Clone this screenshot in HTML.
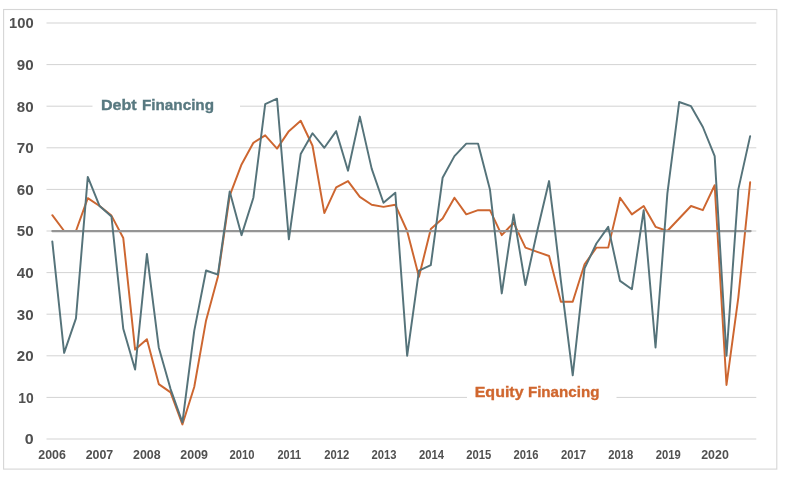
<!DOCTYPE html>
<html><head><meta charset="utf-8"><title>Financing chart</title>
<style>html,body{margin:0;padding:0;background:#fff;}svg{display:block;will-change:transform;opacity:0.999;}text{font-family:"Liberation Sans",sans-serif;font-weight:bold;}</style></head><body>
<svg width="785" height="479" viewBox="0 0 785 479">
<rect x="0" y="0" width="785" height="479" fill="#ffffff"/>
<rect x="3.6" y="9.5" width="773.2" height="459.6" fill="none" stroke="#d6d6d6" stroke-width="1.1"/>
<line x1="46.5" y1="439.00" x2="756.3" y2="439.00" stroke="#d3d3d3" stroke-width="1"/>
<line x1="46.5" y1="397.40" x2="756.3" y2="397.40" stroke="#d3d3d3" stroke-width="1"/>
<line x1="46.5" y1="355.80" x2="756.3" y2="355.80" stroke="#d3d3d3" stroke-width="1"/>
<line x1="46.5" y1="314.20" x2="756.3" y2="314.20" stroke="#d3d3d3" stroke-width="1"/>
<line x1="46.5" y1="272.60" x2="756.3" y2="272.60" stroke="#d3d3d3" stroke-width="1"/>
<line x1="46.5" y1="231.00" x2="756.3" y2="231.00" stroke="#d3d3d3" stroke-width="1"/>
<line x1="46.5" y1="189.40" x2="756.3" y2="189.40" stroke="#d3d3d3" stroke-width="1"/>
<line x1="46.5" y1="147.80" x2="756.3" y2="147.80" stroke="#d3d3d3" stroke-width="1"/>
<line x1="46.5" y1="106.20" x2="756.3" y2="106.20" stroke="#d3d3d3" stroke-width="1"/>
<line x1="46.5" y1="64.60" x2="756.3" y2="64.60" stroke="#d3d3d3" stroke-width="1"/>
<line x1="46.5" y1="23.00" x2="756.3" y2="23.00" stroke="#d3d3d3" stroke-width="1"/>
<rect x="92.5" y="96" width="147.5" height="20" fill="#ffffff"/>
<rect x="467" y="385" width="149.5" height="20" fill="#ffffff"/>
<text x="24.70" y="444.40" font-size="14" fill="#505050" textLength="8.9" lengthAdjust="spacingAndGlyphs">0</text>
<text x="18.20" y="402.80" font-size="14" fill="#505050" textLength="15.4" lengthAdjust="spacingAndGlyphs">10</text>
<text x="16.80" y="361.20" font-size="14" fill="#505050" textLength="16.8" lengthAdjust="spacingAndGlyphs">20</text>
<text x="16.80" y="319.60" font-size="14" fill="#505050" textLength="16.8" lengthAdjust="spacingAndGlyphs">30</text>
<text x="16.80" y="278.00" font-size="14" fill="#505050" textLength="16.8" lengthAdjust="spacingAndGlyphs">40</text>
<text x="16.80" y="236.40" font-size="14" fill="#505050" textLength="16.8" lengthAdjust="spacingAndGlyphs">50</text>
<text x="16.80" y="194.80" font-size="14" fill="#505050" textLength="16.8" lengthAdjust="spacingAndGlyphs">60</text>
<text x="16.80" y="153.20" font-size="14" fill="#505050" textLength="16.8" lengthAdjust="spacingAndGlyphs">70</text>
<text x="16.80" y="111.60" font-size="14" fill="#505050" textLength="16.8" lengthAdjust="spacingAndGlyphs">80</text>
<text x="16.80" y="70.00" font-size="14" fill="#505050" textLength="16.8" lengthAdjust="spacingAndGlyphs">90</text>
<text x="9.00" y="28.40" font-size="14" fill="#505050" textLength="24.6" lengthAdjust="spacingAndGlyphs">100</text>
<text x="38.30" y="459.4" font-size="12" fill="#505050" textLength="27.6" lengthAdjust="spacingAndGlyphs">2006</text>
<text x="85.65" y="459.4" font-size="12" fill="#505050" textLength="27.6" lengthAdjust="spacingAndGlyphs">2007</text>
<text x="133.00" y="459.4" font-size="12" fill="#505050" textLength="27.6" lengthAdjust="spacingAndGlyphs">2008</text>
<text x="180.35" y="459.4" font-size="12" fill="#505050" textLength="27.6" lengthAdjust="spacingAndGlyphs">2009</text>
<text x="229.50" y="459.4" font-size="12" fill="#505050" textLength="25.0" lengthAdjust="spacingAndGlyphs">2010</text>
<text x="277.50" y="459.4" font-size="12" fill="#505050" textLength="23.7" lengthAdjust="spacingAndGlyphs">2011</text>
<text x="324.20" y="459.4" font-size="12" fill="#505050" textLength="25.0" lengthAdjust="spacingAndGlyphs">2012</text>
<text x="371.55" y="459.4" font-size="12" fill="#505050" textLength="25.0" lengthAdjust="spacingAndGlyphs">2013</text>
<text x="418.90" y="459.4" font-size="12" fill="#505050" textLength="25.0" lengthAdjust="spacingAndGlyphs">2014</text>
<text x="466.25" y="459.4" font-size="12" fill="#505050" textLength="25.0" lengthAdjust="spacingAndGlyphs">2015</text>
<text x="513.60" y="459.4" font-size="12" fill="#505050" textLength="25.0" lengthAdjust="spacingAndGlyphs">2016</text>
<text x="560.95" y="459.4" font-size="12" fill="#505050" textLength="25.0" lengthAdjust="spacingAndGlyphs">2017</text>
<text x="608.30" y="459.4" font-size="12" fill="#505050" textLength="25.0" lengthAdjust="spacingAndGlyphs">2018</text>
<text x="655.65" y="459.4" font-size="12" fill="#505050" textLength="25.0" lengthAdjust="spacingAndGlyphs">2019</text>
<text x="701.20" y="459.4" font-size="12" fill="#505050" textLength="27.6" lengthAdjust="spacingAndGlyphs">2020</text>
<polyline points="52.30,215.19 64.13,231.00 75.96,231.00 87.78,198.14 99.61,206.04 111.44,215.61 123.27,238.07 135.10,349.56 146.92,339.16 158.75,384.09 170.58,392.41 182.41,424.44 194.24,387.00 206.06,320.44 217.89,276.76 229.72,195.64 241.55,164.44 253.38,142.81 265.20,135.32 277.03,148.63 288.86,131.16 300.69,120.76 312.52,145.72 324.34,213.11 336.17,187.32 348.00,181.08 359.83,196.89 371.66,204.79 383.48,206.87 395.31,204.79 407.14,231.00 418.97,276.76 430.80,228.92 442.62,218.52 454.45,197.72 466.28,214.36 478.11,210.20 489.94,210.20 501.76,235.16 513.59,222.68 525.42,247.64 537.25,251.80 549.08,255.96 560.90,301.72 572.73,301.72 584.56,264.28 596.39,247.64 608.22,247.64 620.04,197.72 631.87,214.36 643.70,206.04 655.53,226.84 667.36,231.00 679.18,218.52 691.01,206.04 702.84,210.20 714.67,185.24 726.50,384.92 738.32,297.56 750.15,182.33" fill="none" stroke="#cd6630" stroke-width="1.95" stroke-linejoin="round" stroke-linecap="round"/>
<line x1="52.30" y1="231.10" x2="750.65" y2="231.10" stroke="#959595" stroke-width="2.1" stroke-linecap="round"/>
<polyline points="52.30,241.40 64.13,352.89 75.96,318.36 87.78,176.92 99.61,206.04 111.44,216.44 123.27,328.76 135.10,369.53 146.92,253.88 158.75,347.48 170.58,389.08 182.41,422.36 194.24,330.84 206.06,270.52 217.89,274.68 229.72,191.48 241.55,235.16 253.38,197.72 265.20,104.12 277.03,98.71 288.86,239.32 300.69,154.04 312.52,133.24 324.34,147.80 336.17,131.16 348.00,170.68 359.83,116.60 371.66,168.60 383.48,202.71 395.31,192.73 407.14,355.80 418.97,270.52 430.80,265.11 442.62,177.75 454.45,156.12 466.28,143.64 478.11,143.64 489.94,189.40 501.76,293.40 513.59,214.36 525.42,285.08 537.25,231.00 549.08,181.08 560.90,280.92 572.73,375.35 584.56,268.44 596.39,243.48 608.22,226.84 620.04,280.92 631.87,289.24 643.70,210.20 655.53,347.48 667.36,193.56 679.18,102.04 691.01,106.20 702.84,127.00 714.67,156.12 726.50,355.80 738.32,189.40 750.15,136.15" fill="none" stroke="#55737a" stroke-width="1.95" stroke-linejoin="round" stroke-linecap="round"/>
<text x="100.95" y="109.9" font-size="15" fill="#587980" stroke="#587980" stroke-width="0.35" textLength="35.75" lengthAdjust="spacingAndGlyphs">Debt</text>
<text x="142.00" y="109.9" font-size="15" fill="#587980" stroke="#587980" stroke-width="0.35" textLength="72.00" lengthAdjust="spacingAndGlyphs">Financing</text>
<text x="474.70" y="396.8" font-size="15" fill="#d0672f" stroke="#d0672f" stroke-width="0.35" textLength="48.90" lengthAdjust="spacingAndGlyphs">Equity</text>
<text x="527.90" y="396.8" font-size="15" fill="#d0672f" stroke="#d0672f" stroke-width="0.35" textLength="71.50" lengthAdjust="spacingAndGlyphs">Financing</text>
</svg></body></html>
